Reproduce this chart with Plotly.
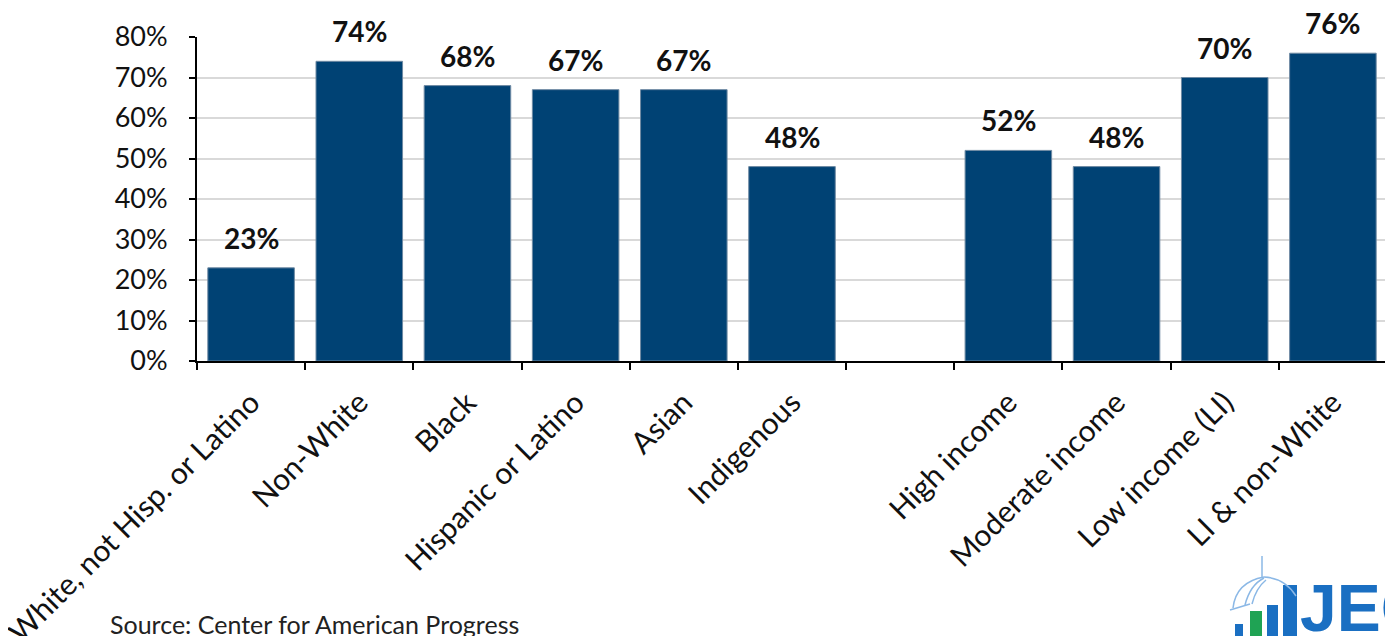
import plotly.graph_objects as go

categories = ["White, not Hisp. or Latino", "Non-White", "Black", "Hispanic or Latino",
              "Asian", "Indigenous", " ", "High income", "Moderate income",
              "Low income (LI)", "LI & non-White"]
values = [23, 74, 68, 67, 67, 48, None, 52, 48, 70, 76]
labels = [f"{v}%" if v is not None else "" for v in values]
y_ticks = [0, 10, 20, 30, 40, 50, 60, 70, 80]
y_tick_text = [f"{t}%" for t in y_ticks]

FONT = "Lato, 'Open Sans', sans-serif"
BAR = "#004274"
LOGO = "#1a6fc2"

# page offsets: the figure sits 8px from the top-left of the page
PL, PR, PT, PB = 197, 1387, 37, 361


def px(xp):
    return (xp - PL) / (PR - PL)


def py(yp):
    return (PB - yp) / (PB - PT)


fig = go.Figure()
fig.add_trace(go.Bar(
    x=categories, y=values,
    marker=dict(color=BAR, line=dict(color="#6f8aa3", width=1)),
    hoverinfo="skip",
))

# value labels above the bars
for c, v, t in zip(categories, values, labels):
    if v is None:
        continue
    fig.add_annotation(
        x=c, y=v, text=f"<b>{t}</b>", showarrow=False,
        xanchor="center", yanchor="middle", yshift=30,
        font=dict(family=FONT, size=28, color="#111111"),
    )

fig.update_layout(
    width=1393, height=636,
    margin=dict(l=PL - 8, r=1393 - (PR - 8), t=PT - 8, b=636 - (PB - 8)),
    paper_bgcolor="white", plot_bgcolor="white",
    bargap=0.2, showlegend=False,
    font=dict(family=FONT, color="#111111"),
)
fig.update_xaxes(
    type="category", categoryorder="array", categoryarray=categories,
    showline=True, linecolor="black", linewidth=2,
    ticks="outside", tickson="boundaries", ticklen=7, tickwidth=2, tickcolor="black",
    tickangle=-45, tickfont=dict(family=FONT, size=30, color="#111111"),
    ticklabelstandoff=10,
    showgrid=False, automargin=False,
)
fig.update_yaxes(
    range=[0, 80], tickvals=y_ticks, ticktext=y_tick_text,
    showline=True, linecolor="black", linewidth=2,
    ticks="outside", ticklen=6, tickwidth=2, tickcolor="black",
    tickfont=dict(family=FONT, size=27, color="#111111"),
    ticklabelstandoff=16,
    showgrid=True, gridcolor="#d9d9d9", gridwidth=1.5,
    zeroline=False, automargin=False,
)

fig.add_annotation(
    text="Source: Center for American Progress", xref="paper", yref="paper",
    x=px(108), y=py(624), xanchor="left", yanchor="middle", showarrow=False,
    font=dict(family=FONT, size=25, color="#222222"),
)

# logo (decorative)
for x0, x1, y0, col in [(1235, 1243, 624, LOGO), (1250, 1262, 611, "#1fa354"),
                        (1267, 1278, 605, LOGO), (1283, 1297, 585, LOGO)]:
    fig.add_shape(type="rect", xref="paper", yref="paper",
                  x0=px(x0), x1=px(x1), y0=py(645), y1=py(y0),
                  fillcolor=col, line=dict(width=0))
for path in [
    f"M {px(1233)},{py(608)} Q {px(1236)},{py(582)} {px(1264)},{py(577)}",
    f"M {px(1245)},{py(605)} Q {px(1250)},{py(585)} {px(1264)},{py(578)}",
    f"M {px(1252)},{py(604)} Q {px(1256)},{py(588)} {px(1266)},{py(580)}",
    f"M {px(1264)},{py(577)} Q {px(1285)},{py(578)} {px(1296)},{py(596)}",
    f"M {px(1262)},{py(556)} L {px(1262)},{py(577)}",
    f"M {px(1230)},{py(610)} L {px(1250)},{py(604)}",
]:
    fig.add_shape(type="path", xref="paper", yref="paper", path=path,
                  line=dict(color="#8bb8e6", width=1.5))
fig.add_annotation(
    text="<b>JEC</b>", xref="paper", yref="paper",
    x=px(1298), y=py(569), xanchor="left", yanchor="top", showarrow=False,
    font=dict(family="'Liberation Sans', Arial, sans-serif", size=66, color=LOGO),
)

fig.write_html("out.html")
